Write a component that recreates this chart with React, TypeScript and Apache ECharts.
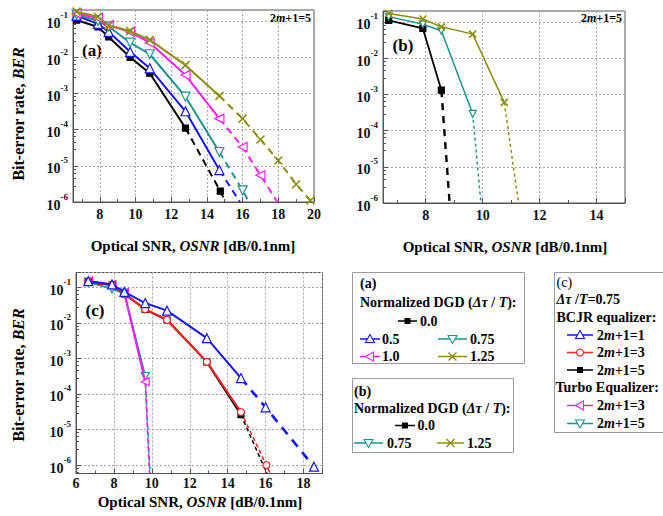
import React, { useEffect, useRef } from 'react';
import * as echarts from 'echarts';

type Pt = [number, number];

const FONT = "'Liberation Serif', 'Times New Roman', serif";

// ---------- Panel (a): normalized DGD, BCJR 2m+1=5 ----------
const A_D000_SOLID: Pt[] = [[6.7, 0.105], [7.9, 0.068], [8.5, 0.036], [9.7, 0.0099], [10.8, 0.0036], [12.8, 1.1e-4]];
const A_D000_DASH: Pt[] = [[12.8, 1.1e-4], [14.75, 2e-6]];
const A_D000_END: Pt = [15.05, 1e-6];

const A_D050_SOLID: Pt[] = [[6.7, 0.14], [7.9, 0.083], [8.5, 0.05], [9.7, 0.014], [10.8, 0.0049], [12.8, 3.2e-4], [14.7, 7.6e-6]];
const A_D050_DASH: Pt[] = [[14.7, 7.6e-6]];
const A_D050_END: Pt = [15.85, 1e-6];

const A_D075_SOLID: Pt[] = [[6.7, 0.15], [7.9, 0.1], [8.5, 0.07], [9.7, 0.025], [10.8, 0.012], [12.8, 8.1e-4], [14.7, 2.4e-5]];
const A_D075_DASH: Pt[] = [[14.7, 2.4e-5], [16.0, 2.1e-6]];
const A_D075_END: Pt = [16.35, 1e-6];

const A_D100_SOLID: Pt[] = [[6.7, 0.16], [7.9, 0.12], [8.5, 0.077], [9.7, 0.05], [10.8, 0.025], [12.8, 0.0032], [14.7, 2e-4]];
const A_D100_DASH: Pt[] = [[14.7, 2e-4], [16.0, 3.3e-5], [17.0, 5.5e-6]];
const A_D100_END: Pt = [17.95, 1e-6];

const A_D125_SOLID: Pt[] = [[6.7, 0.18], [7.9, 0.13], [8.5, 0.075], [9.7, 0.052], [10.8, 0.03], [12.8, 0.006], [14.7, 8.5e-4]];
const A_D125_DASH: Pt[] = [[14.7, 8.5e-4], [16.0, 2e-4], [17.0, 5.3e-5], [18.0, 1.4e-5], [19.0, 3.1e-6], [19.8, 1.1e-6]];

// ---------- Panel (b): turbo equalizer, 2m+1=5 ----------
const B_D000_SOLID: Pt[] = [[6.7, 0.11], [7.9, 0.066], [8.55, 1.3e-3]];
const B_D000_DASH: Pt[] = [[8.55, 1.3e-3]];
const B_D000_END: Pt = [8.84, 1e-6];

const B_D075_SOLID: Pt[] = [[6.7, 0.14], [7.9, 0.086], [8.55, 0.057], [9.65, 2.9e-4]];
const B_D075_DASH: Pt[] = [[9.65, 2.9e-4]];
const B_D075_END: Pt = [9.94, 1e-6];

const B_D125_SOLID: Pt[] = [[6.7, 0.17], [7.9, 0.12], [8.55, 0.073], [9.65, 0.046], [10.76, 6e-4]];
const B_D125_DASH: Pt[] = [[10.76, 6e-4]];
const B_D125_END: Pt = [11.26, 1e-6];

// ---------- Panel (c): DGD 0.75 ----------
const C_YMIN = 5.8e-7;
const C_BCJR1_SOLID: Pt[] = [[6.65, 0.148], [7.9, 0.12], [8.55, 0.074], [9.65, 0.036], [10.8, 0.022], [12.9, 3.7e-3], [14.7, 2.8e-4]];
const C_BCJR1_DASH: Pt[] = [[14.7, 2.8e-4], [16.0, 4.2e-5], [18.55, 9e-7]];

const C_BCJR3_SOLID: Pt[] = [[6.65, 0.14], [7.9, 0.115], [8.55, 0.065], [9.65, 0.024], [10.8, 0.012], [12.9, 8e-4], [14.7, 3.1e-5]];
const C_BCJR3_DASH: Pt[] = [[14.7, 3.1e-5], [16.04, 1e-6]];
const C_BCJR3_END: Pt = [16.25, C_YMIN];

const C_BCJR5_SOLID: Pt[] = [[6.65, 0.14], [7.9, 0.115], [8.55, 0.065], [9.65, 0.024], [10.8, 0.012], [12.9, 8e-4], [14.7, 2.6e-5]];
const C_BCJR5_DASH: Pt[] = [[14.7, 2.6e-5]];
const C_BCJR5_END: Pt = [16.07, C_YMIN];

const C_TURBO3_SOLID: Pt[] = [[6.65, 0.15], [7.9, 0.12], [8.55, 0.07], [9.65, 2.2e-4]];
const C_TURBO3_DASH: Pt[] = [[9.65, 2.2e-4]];
const C_TURBO3_END: Pt = [9.88, C_YMIN];

const C_TURBO5_SOLID: Pt[] = [[6.65, 0.14], [7.9, 0.09], [8.55, 0.068], [9.65, 3.1e-4]];
const C_TURBO5_DASH: Pt[] = [[9.65, 3.1e-4]];
const C_TURBO5_END: Pt = [9.9, C_YMIN];

const BLACK = '#000000';
const BLUE = '#1414ff';
const TEAL = '#1c9393';
const MAGENTA = '#ff1cff';
const OLIVE = '#8e8e0c';
const RED = '#ff2020';
const CROSS = 'path://M0,0L10,10M10,0L0,10';

interface St {
  color: string; symbol: string; size: number; rotate?: number; open?: boolean;
  width: number; dash: any; dashWidth: number;
}

function curve(grid: number, st: St, solid: Pt[], dash: Pt[], end: Pt | null, z: number) {
  const item = {
    color: st.open ? '#fff' : st.color,
    borderColor: st.color,
    borderWidth: st.symbol === CROSS ? 1.6 : 1.2,
  };
  const base: any = {
    type: 'line', xAxisIndex: grid, yAxisIndex: grid,
    symbol: st.symbol, symbolSize: st.size, symbolRotate: st.rotate ?? 0,
    itemStyle: item, clip: true, silent: true, emphasis: { disabled: true }, z,
  };
  const dashData: any[] = dash.map((p, i) => (i === 0 ? { value: p, symbol: 'none' } : { value: p }));
  if (end) dashData.push({ value: end, symbol: 'none' });
  return [
    { ...base, data: dashData, lineStyle: { color: st.color, width: st.dashWidth, type: st.dash } },
    { ...base, data: solid, lineStyle: { color: st.color, width: st.width, type: 'solid' } },
  ];
}

const R = (size: number, italic = false, bold = true) => ({
  fontFamily: FONT, fontSize: size, fontWeight: bold ? 'bold' : 'normal',
  fontStyle: italic ? 'italic' : 'normal', fill: '#000', color: '#000',
});

function txt(x: number, y: number, text: string, size: number, opts: any = {}) {
  return {
    type: 'text', x, y, rotation: opts.rotation ?? 0, silent: true,
    style: {
      text, fill: '#000', align: opts.align ?? 'left', verticalAlign: 'middle',
      fontFamily: FONT, fontSize: size, fontWeight: 'bold',
      rich: { n: R(size), i: R(size, true), r: R(size, false, false) },
    },
  };
}

function marker(kind: string, cx: number, cy: number, color: string): any[] {
  const st = { fill: '#fff', stroke: color, lineWidth: 1.1 };
  if (kind === 'square') return [{ type: 'rect', shape: { x: cx - 3, y: cy - 3, width: 6, height: 6 }, style: { fill: color } }];
  if (kind === 'up') return [{ type: 'polygon', shape: { points: [[cx, cy - 4.5], [cx - 4.5, cy + 3.5], [cx + 4.5, cy + 3.5]] }, style: st }];
  if (kind === 'down') return [{ type: 'polygon', shape: { points: [[cx, cy + 4.5], [cx - 4.5, cy - 3.5], [cx + 4.5, cy - 3.5]] }, style: st }];
  if (kind === 'left') return [{ type: 'polygon', shape: { points: [[cx - 4.5, cy], [cx + 3.5, cy - 4.5], [cx + 3.5, cy + 4.5]] }, style: st }];
  if (kind === 'circle') return [{ type: 'circle', shape: { cx, cy, r: 3.5 }, style: st }];
  return [
    { type: 'line', shape: { x1: cx - 4, y1: cy - 4, x2: cx + 4, y2: cy + 4 }, style: { stroke: color, lineWidth: 1.4 } },
    { type: 'line', shape: { x1: cx - 4, y1: cy + 4, x2: cx + 4, y2: cy - 4 }, style: { stroke: color, lineWidth: 1.4 } },
  ];
}

function legendItem(x1: number, x2: number, y: number, color: string, kind: string, label: string, tx: number) {
  return [
    { type: 'line', shape: { x1, y1: y, x2, y2: y }, style: { stroke: color, lineWidth: 1.5 } },
    ...marker(kind, (x1 + x2) / 2, y, color),
    txt(tx, y, label, 14),
  ];
}

function xAxis(grid: number, min: number, max: number, margin = 5) {
  return {
    type: 'value', gridIndex: grid, min, max, minInterval: 2, maxInterval: 2, splitNumber: 6,
    axisLine: { show: true, onZero: false, lineStyle: { color: '#555', width: 1 } },
    axisTick: { show: true, inside: true, length: 5, lineStyle: { color: '#555' } },
    minorTick: { show: true, splitNumber: 2, length: 3, lineStyle: { color: '#555' } },
    splitLine: { show: true, lineStyle: { color: '#a8a8a8', type: [2, 2], width: 1 } },
    axisLabel: {
      fontFamily: FONT, fontWeight: 'bold', fontSize: 14, color: '#111', margin,
      formatter: (v: number) => (Math.abs(v % 2) < 1e-9 ? String(Math.round(v)) : ''),
    },
  };
}

function yAxis(grid: number, min: number, max: number) {
  return {
    type: 'log', logBase: 10, gridIndex: grid, min, max, splitNumber: 5,
    axisLine: { show: true, lineStyle: { color: '#555', width: 1 } },
    axisTick: { show: true, inside: true, length: 5, lineStyle: { color: '#555' } },
    minorTick: { show: true, splitNumber: 5, length: 3, lineStyle: { color: '#555' } },
    splitLine: { show: true, lineStyle: { color: '#a8a8a8', type: [2, 2], width: 1 } },
    axisLabel: {
      margin: 5,
      formatter: (v: number) => {
        const e = Math.log10(v);
        const r = Math.round(e);
        if (Math.abs(e - r) > 1e-6) return '';
        return `{b|10}{s|${r}}`;
      },
      rich: {
        b: { fontFamily: FONT, fontSize: 14, fontWeight: 'bold', color: '#111', lineHeight: 20, verticalAlign: 'bottom' },
        s: { fontFamily: FONT, fontSize: 9, fontWeight: 'bold', color: '#111', lineHeight: 9, verticalAlign: 'top' },
      },
    },
  };
}

const stA = {
  d000: { color: BLACK, symbol: 'rect', size: 6, width: 2, dash: [7, 5], dashWidth: 2 },
  d050: { color: BLUE, symbol: 'triangle', size: 9, open: true, width: 2, dash: [7, 5], dashWidth: 2 },
  d075: { color: TEAL, symbol: 'triangle', rotate: 180, size: 9, open: true, width: 2, dash: [7, 5], dashWidth: 2 },
  d100: { color: MAGENTA, symbol: 'triangle', rotate: 90, size: 9, open: true, width: 2, dash: [7, 5], dashWidth: 2 },
  d125: { color: OLIVE, symbol: CROSS, size: 8, width: 2, dash: [7, 5], dashWidth: 2 },
};
const stB = {
  d000: { color: BLACK, symbol: 'rect', size: 6, width: 1.8, dash: [7, 6], dashWidth: 2.4 },
  d075: { color: TEAL, symbol: 'triangle', rotate: 180, size: 7, open: true, width: 1.5, dash: [3, 3], dashWidth: 1.5 },
  d125: { color: OLIVE, symbol: CROSS, size: 7, width: 1.5, dash: [3, 3], dashWidth: 1.5 },
};
const stC = {
  b1: { color: BLUE, symbol: 'triangle', size: 9, open: true, width: 2, dash: [9, 7], dashWidth: 2.6 },
  b3: { color: RED, symbol: 'circle', size: 7, open: true, width: 2, dash: [4, 3], dashWidth: 1.5 },
  b5: { color: BLACK, symbol: 'rect', size: 6, width: 2, dash: [4, 3], dashWidth: 1.5 },
  t3: { color: MAGENTA, symbol: 'triangle', rotate: 90, size: 8, open: true, width: 2, dash: [5, 3], dashWidth: 1.6 },
  t5: { color: TEAL, symbol: 'triangle', rotate: 180, size: 8, open: true, width: 2, dash: [5, 3], dashWidth: 1.6 },
};

function buildOption() {
  const series: any[] = [
    ...curve(0, stA.d000, A_D000_SOLID, A_D000_DASH, A_D000_END, 2),
    ...curve(0, stA.d050, A_D050_SOLID, A_D050_DASH, A_D050_END, 3),
    ...curve(0, stA.d075, A_D075_SOLID, A_D075_DASH, A_D075_END, 4),
    ...curve(0, stA.d100, A_D100_SOLID, A_D100_DASH, A_D100_END, 5),
    ...curve(0, stA.d125, A_D125_SOLID, A_D125_DASH, null, 6),
    ...curve(1, stB.d000, B_D000_SOLID, B_D000_DASH, B_D000_END, 2),
    ...curve(1, stB.d075, B_D075_SOLID, B_D075_DASH, B_D075_END, 3),
    ...curve(1, stB.d125, B_D125_SOLID, B_D125_DASH, B_D125_END, 4),
    ...curve(2, stC.t5, C_TURBO5_SOLID, C_TURBO5_DASH, C_TURBO5_END, 2),
    ...curve(2, stC.t3, C_TURBO3_SOLID, C_TURBO3_DASH, C_TURBO3_END, 3),
    ...curve(2, stC.b5, C_BCJR5_SOLID, C_BCJR5_DASH, C_BCJR5_END, 4),
    ...curve(2, stC.b3, C_BCJR3_SOLID, C_BCJR3_DASH, C_BCJR3_END, 5),
    ...curve(2, stC.b1, C_BCJR1_SOLID, C_BCJR1_DASH, null, 6),
  ];

  const xTitle = '{n|Optical SNR, }{i|OSNR}{n| [dB/0.1nm]}';
  const yTitle = '{n|Bit-error rate, }{i|BER}';
  const dgd = '{n|Normalized DGD (}{i|Δτ}{n| / }{i|T}{n|):}';
  const mm = (k: string) => `{n|2}{i|m}{n|+1=${k}}`;

  const graphic: any[] = [
    txt(193, 246, xTitle, 15, { align: 'center' }),
    txt(505, 247, xTitle, 15, { align: 'center' }),
    txt(200, 502, xTitle, 15, { align: 'center' }),
    txt(18, 114, yTitle, 16, { align: 'center', rotation: Math.PI / 2 }),
    txt(18, 375, yTitle, 16, { align: 'center', rotation: Math.PI / 2 }),
    txt(92, 50, '(a)', 17, { align: 'center' }),
    txt(403, 45, '(b)', 17, { align: 'center' }),
    txt(95, 310, '(c)', 17, { align: 'center' }),
    txt(311, 18, mm('5'), 12, { align: 'right' }),
    txt(622, 18, mm('5'), 12, { align: 'right' }),
    // legend (a)
    { type: 'rect', shape: { x: 352.5, y: 272.5, width: 172, height: 91 }, style: { fill: '#fff', stroke: '#9a9a9a', lineWidth: 1 } },
    txt(360, 283, '(a)', 14),
    txt(360, 302.5, dgd, 14),
    ...legendItem(398, 417, 321, BLACK, 'square', '0.0', 420),
    ...legendItem(360, 380, 339, BLUE, 'up', '0.5', 382),
    ...legendItem(438, 467, 339, TEAL, 'down', '0.75', 470),
    ...legendItem(360, 380, 356.5, MAGENTA, 'left', '1.0', 382),
    ...legendItem(438, 467, 356.5, OLIVE, 'cross', '1.25', 470),
    // legend (b)
    { type: 'rect', shape: { x: 352.5, y: 378.5, width: 161, height: 74 }, style: { fill: '#fff', stroke: '#9a9a9a', lineWidth: 1 } },
    txt(354, 391.5, '(b)', 14),
    txt(354, 408.5, dgd, 14),
    ...legendItem(395, 415, 425.5, BLACK, 'square', '0.0', 417.5),
    ...legendItem(354, 383, 443, TEAL, 'down', '0.75', 387),
    ...legendItem(437, 464, 443, OLIVE, 'cross', '1.25', 467),
    // legend (c)
    { type: 'rect', shape: { x: 554.5, y: 272.5, width: 130, height: 160 }, style: { fill: '#fff', stroke: '#9a9a9a', lineWidth: 1 } },
    txt(556.5, 282, '{r|(c)}', 14),
    txt(556.5, 299.5, '{i|Δτ}{n| /}{i|T}{n|=0.75}', 14),
    txt(556.5, 317.5, 'BCJR equalizer:', 14),
    ...legendItem(567, 593, 335, BLUE, 'up', mm('1'), 597),
    ...legendItem(567, 593, 352.5, RED, 'circle', mm('3'), 597),
    ...legendItem(567, 593, 370, BLACK, 'square', mm('5'), 597),
    txt(555.5, 387.5, 'Turbo Equalizer:', 14),
    ...legendItem(567, 593, 405.5, MAGENTA, 'left', mm('3'), 597),
    ...legendItem(567, 593, 423.5, TEAL, 'down', mm('5'), 597),
  ];

  const xc = xAxis(2, 6, 19, 3);
  return {
    animation: false,
    backgroundColor: '#ffffff',
    grid: [
      { left: 73, top: 10, width: 241, height: 192, show: true, borderColor: '#555', borderWidth: 1, backgroundColor: 'transparent', outerBoundsMode: 'none', containLabel: false },
      { left: 383, top: 11, width: 242, height: 192, show: true, borderColor: '#555', borderWidth: 1, backgroundColor: 'transparent', outerBoundsMode: 'none', containLabel: false },
      { left: 76, top: 272.5, width: 246.5, height: 201, show: true, borderColor: '#555', borderWidth: 1, backgroundColor: 'transparent', outerBoundsMode: 'none', containLabel: false },
    ],
    xAxis: [xAxis(0, 6.5, 20), xAxis(1, 6.5, 15), { ...xc, axisLabel: { ...xc.axisLabel, showMaxLabel: false } }],
    yAxis: [yAxis(0, 1e-6, 0.2), yAxis(1, 1e-6, 0.2), yAxis(2, C_YMIN, 0.26)],
    series,
    graphic,
  };
}

export default function App() {
  const ref = useRef<HTMLDivElement>(null);
  useEffect(() => {
    if (!ref.current) return;
    const chart = echarts.init(ref.current, undefined, { renderer: 'svg' });
    chart.setOption(buildOption() as any);
    return () => chart.dispose();
  }, []);
  return <div ref={ref} style={{ position: 'absolute', left: 0, top: 0, width: 663, height: 516, background: '#fff' }} />;
}
